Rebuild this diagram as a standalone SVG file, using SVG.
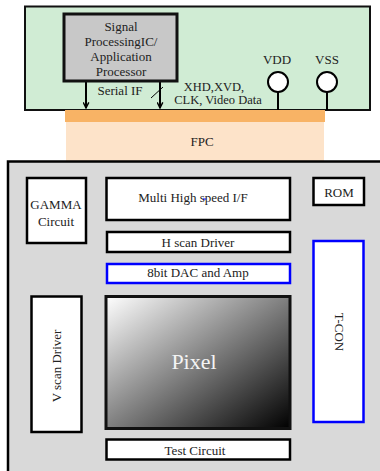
<svg xmlns="http://www.w3.org/2000/svg" width="380" height="471" viewBox="0 0 380 471" font-family="'Liberation Serif', 'Times New Roman', serif">
<defs>
<linearGradient id="pg" x1="0" y1="0" x2="1" y2="1">
<stop offset="0" stop-color="#ffffff"/>
<stop offset="1" stop-color="#000000"/>
</linearGradient>
<marker id="ah" viewBox="0 0 10 10" refX="9" refY="5" markerWidth="7" markerHeight="7" orient="auto" markerUnits="userSpaceOnUse">
<path d="M1,1 L9,5 L1,9" fill="none" stroke="#000" stroke-width="2"/>
</marker>
<style>
text{font-size:13px;fill:#222;text-anchor:middle;dominant-baseline:central}
.sm{font-size:12.5px}
.blk{fill:#fff;stroke:#000;stroke-width:2.5}
.blu{fill:#fff;stroke:#0000ff;stroke-width:2.5}
</style>
</defs>
<g id="board">
<rect x="25" y="6.5" width="345" height="103.5" fill="#d0ecd4" stroke="#111" stroke-width="2"/>
</g>
<g id="fpc">
<rect x="66" y="122" width="258" height="40" fill="#fde3c9"/>
<rect x="65" y="110" width="260" height="12" fill="#f8b365"/>
<text x="202" y="141">FPC</text>
</g>
<g id="panel">
<rect x="8" y="161.5" width="376" height="315" fill="#d9d9d9" stroke="#000" stroke-width="2.5"/>
</g>
<g id="connectors" stroke="#000" stroke-width="2" fill="none">
<line x1="86" y1="81" x2="86" y2="108" marker-end="url(#ah)"/>
<line x1="160" y1="81" x2="160" y2="108" marker-end="url(#ah)"/>
<line x1="151" y1="98" x2="163" y2="87" stroke-width="1"/>
<line x1="278" y1="92" x2="278" y2="110"/>
<line x1="327" y1="92" x2="327" y2="110"/>
</g>
<g id="processor">
<rect x="64" y="14" width="113" height="67" fill="#c8c8c8" stroke="#111" stroke-width="3"/>
<text x="121" y="26">Signal</text>
<text x="121" y="41.5">ProcessingIC/</text>
<text x="121" y="56.5">Application</text>
<text x="121" y="71">Processor</text>
</g>
<g id="labels">
<text x="120" y="90">Serial IF</text>
<text class="sm" x="214" y="86.5">XHD,XVD,</text>
<text class="sm" x="218" y="100">CLK, Video Data</text>
</g>
<g id="vdd">
<text x="277" y="59">VDD</text>
<circle cx="278" cy="82" r="10" fill="#fff" stroke="#000" stroke-width="2"/>
</g>
<g id="vss">
<text x="327" y="59">VSS</text>
<circle cx="327" cy="82" r="10" fill="#fff" stroke="#000" stroke-width="2"/>
</g>
<g id="gamma">
<rect class="blk" x="27" y="178" width="59" height="65"/>
<text x="56" y="204">GAMMA</text>
<text x="56" y="221">Circuit</text>
</g>
<g id="multi">
<rect class="blk" x="106.5" y="178" width="183.5" height="42"/>
<text x="193" y="197">Multi  High  speed I/F</text>
<line x1="203" y1="199" x2="206" y2="199" stroke="#0000ff" stroke-width="1"/>
</g>
<g id="rom">
<rect class="blk" x="313.5" y="178" width="50.5" height="27"/>
<text x="339" y="192">ROM</text>
</g>
<g id="hscan">
<rect class="blk" x="107" y="232" width="183" height="20"/>
<text x="198" y="242">H scan Driver</text>
</g>
<g id="dac">
<rect class="blu" x="107" y="264" width="183" height="19"/>
<text x="198" y="272.5">8bit  DAC and Amp</text>
</g>
<g id="tcon">
<rect class="blu" x="313.5" y="241" width="50" height="181"/>
<text x="339" y="332" transform="rotate(90 339 332)">T-CON</text>
</g>
<g id="vscan">
<rect class="blk" x="31.5" y="296.5" width="50" height="135.5"/>
<text x="56" y="366" transform="rotate(-90 56 366)">V scan Driver</text>
</g>
<g id="pixel">
<rect x="106" y="296.5" width="184" height="132" fill="url(#pg)" stroke="#111" stroke-width="3"/>
<text x="194" y="361" style="font-size:22px;fill:#f4f4f4">Pixel</text>
</g>
<g id="test">
<rect class="blk" x="106.5" y="439.5" width="183.5" height="20"/>
<text x="195" y="450">Test Circuit</text>
</g>
</svg>
